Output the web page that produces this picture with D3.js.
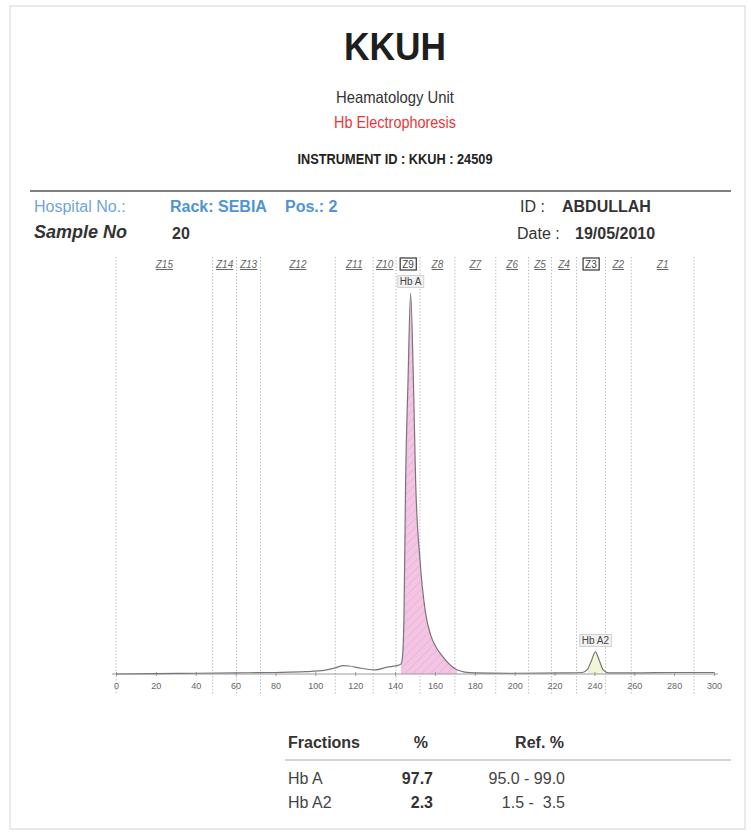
<!DOCTYPE html>
<html>
<head>
<meta charset="utf-8">
<script src="https://cdn.jsdelivr.net/npm/d3@7"></script>
<style>
body { margin: 0; background: #fff; }
text { font-family: "Liberation Sans", Arial, sans-serif; }
</style>
</head>
<body>
<script>
// zones of the capillary electrophoresis run (left edge .. right edge, in run units)
const zoneNames = ["Z15", "Z14", "Z13", "Z12", "Z11", "Z10", "Z9", "Z8", "Z7", "Z6", "Z5", "Z4", "Z3", "Z2", "Z1"];
const zoneEdges = [0, 48.5, 60.5, 72.5, 110, 129, 140.5, 152.5, 170, 190.5, 207, 218.5, 231, 245.5, 258.5, 290];
const boxedZones = ["Z9", "Z3"];

const axisTicks = [0, 20, 40, 60, 80, 100, 120, 140, 160, 180, 200, 220, 240, 260, 280, 300];

// trace (position, relative absorbance)
const traceX = [0, 20, 40, 60, 80, 95, 105, 110, 114, 117, 122, 130, 136, 141, 143, 143.8, 144.5, 145.3, 146.5, 147.8,
    149.2, 150.3, 152.5, 155.3, 158, 160.3, 164, 167.8, 171, 175, 180, 200, 225, 234, 236.5, 238.5, 240.5, 242.5,
    244.5, 247, 260, 280, 300];
const traceY = [0, 0.1, 0.2, 0.3, 0.4, 0.6, 1.0, 1.6, 2.2, 2.1, 1.6, 1.1, 1.8, 2.2, 2.6, 5, 16, 51, 77, 100,
    77, 51, 30, 16, 10, 7.3, 4.5, 2.3, 1.1, 0.5, 0.3, 0.2, 0.3, 0.4, 1.2, 3.5, 5.8, 3.5,
    1.0, 0.3, 0.3, 0.4, 0.4];

// peaks: label, apex, fill range
const peakNames = ["Hb A", "Hb A2"];
const peakApex = [147.8, 240.5];
const peakFrom = [143, 235];
const peakTo = [172, 246];

// result table
const fractions = ["Hb A", "Hb A2"];
const percents = ["97.7", "2.3"];
const refRanges = ["95.0 - 99.0", "1.5 -  3.5"];

const W = 751, H = 832;

const svg = d3.select("body").append("svg")
    .attr("width", W)
    .attr("height", H);

// hatching for the Hb A peak
let defs = svg.append("defs");
let pat = defs.append("pattern")
    .attr("id", "hatch")
    .attr("patternUnits", "userSpaceOnUse")
    .attr("width", 6)
    .attr("height", 6)
    .attr("patternTransform", "rotate(45)");
pat.append("rect").attr("width", 6).attr("height", 6).attr("fill", "#f4c4e4");
pat.append("line").attr("x1", 0).attr("y1", 0).attr("x2", 0).attr("y2", 6)
    .attr("stroke", "#eaa9d6").attr("stroke-width", 1.2);

// page edge
svg.append("rect")
    .attr("x", 10).attr("y", 6)
    .attr("width", 735).attr("height", 823)
    .attr("fill", "none")
    .attr("stroke", "#d4d4d4");

function txt(x, y, s, o) {
    o = o || {};
    let t = svg.append("text")
        .attr("x", x)
        .attr("y", y)
        .attr("font-size", o.size || 13)
        .attr("fill", o.fill || "#222")
        .attr("text-anchor", o.anchor || "start")
        .text(s);
    if (o.bold) t.attr("font-weight", "bold");
    if (o.italic) t.attr("font-style", "italic");
    if (o.w) t.attr("textLength", o.w).attr("lengthAdjust", "spacingAndGlyphs");
    return t;
}

// header (narrow print face on the scan)
const cx = 395;
txt(cx, 60, "KKUH", {size: 39, bold: true, anchor: "middle", fill: "#1e1e1e", w: 102});
txt(cx, 103, "Heamatology Unit", {size: 16.5, anchor: "middle", fill: "#333", w: 118});
txt(cx, 128, "Hb Electrophoresis", {size: 16.5, anchor: "middle", fill: "#e5383b", w: 122});
txt(cx, 164, "INSTRUMENT ID : KKUH : 24509", {size: 14, bold: true, anchor: "middle", w: 195});

svg.append("line")
    .attr("x1", 30).attr("x2", 731)
    .attr("y1", 191).attr("y2", 191)
    .attr("stroke", "#555").attr("stroke-width", 1.3);

txt(34, 212, "Hospital No.:", {size: 16, fill: "#6fa5dc"});
txt(170, 212, "Rack: SEBIA", {size: 16, bold: true, fill: "#4f93d8"});
txt(285, 212, "Pos.: 2", {size: 16, bold: true, fill: "#4f93d8"});
txt(520, 212, "ID :", {size: 16, fill: "#333"});
txt(562, 212, "ABDULLAH", {size: 16, bold: true, fill: "#333"});
txt(34, 238, "Sample No", {size: 18, bold: true, italic: true, fill: "#333"});
txt(172, 239, "20", {size: 16, bold: true, fill: "#333"});
txt(517, 239, "Date :", {size: 16, fill: "#333"});
txt(575, 239, "19/05/2010", {size: 16, bold: true, fill: "#333"});

// electropherogram
const x = d3.scaleLinear().domain([0, 300]).range([116, 714]);
const y = d3.scaleLinear().domain([0, 100]).range([674, 293]);

const plot = svg.append("g");

// zone boundaries
let edgeG = plot.append("g");
edgeG.selectAll("line")
    .data(zoneEdges)
    .enter().append("line")
    .attr("x1", d => x(d)).attr("x2", d => x(d))
    .attr("y1", 257).attr("y2", 695)
    .attr("stroke", "#9a9a9a")
    .attr("stroke-width", 0.8)
    .attr("stroke-dasharray", "1.2,2");

// zone names
let zones = zoneNames.map((n, i) => ({name: n, mid: (zoneEdges[i] + zoneEdges[i + 1]) / 2}));
let zoneG = plot.append("g");
zones.forEach(z => {
    let boxed = boxedZones.indexOf(z.name) >= 0;
    let t = zoneG.append("text")
        .attr("x", x(z.mid))
        .attr("y", 268)
        .attr("text-anchor", "middle")
        .attr("font-size", 10)
        .attr("fill", boxed ? "#444" : "#666")
        .text(z.name);
    if (boxed) {
        let bb = t.node().getBBox();
        zoneG.append("rect")
            .attr("x", bb.x - 2).attr("y", bb.y - 1)
            .attr("width", bb.width + 4).attr("height", bb.height + 1)
            .attr("fill", "none").attr("stroke", "#444").attr("stroke-width", 1.3);
    } else {
        t.attr("font-style", "italic").attr("text-decoration", "underline");
    }
});

const trace = traceX.map((v, i) => [v, traceY[i]]);

// peak fills
const area = d3.area()
    .x(d => x(d[0]))
    .y0(y(0))
    .y1(d => y(d[1]))
    .curve(d3.curveMonotoneX);

peakNames.forEach((n, i) => {
    let part = trace.filter(d => d[0] >= peakFrom[i] && d[0] <= peakTo[i]);
    plot.append("path")
        .datum(part)
        .attr("d", area)
        .attr("fill", i === 0 ? "url(#hatch)" : "#f0f6d6");
});

// axis
plot.append("line")
    .attr("x1", x(-2)).attr("x2", x(302))
    .attr("y1", y(0)).attr("y2", y(0))
    .attr("stroke", "#9a9a9a").attr("stroke-width", 1);

let axisG = plot.append("g")
    .attr("transform", `translate(0,${y(0)})`)
    .call(d3.axisBottom(x).tickValues(axisTicks).tickSize(2).tickPadding(7));
axisG.select(".domain").remove();
axisG.selectAll(".tick line").attr("y1", -2).attr("stroke", "#999");
axisG.selectAll(".tick text")
    .attr("font-family", "\"Liberation Sans\", Arial, sans-serif")
    .attr("font-size", 9)
    .attr("fill", "#666");

// trace line
const line = d3.line()
    .x(d => x(d[0]))
    .y(d => y(d[1]))
    .curve(d3.curveMonotoneX);

plot.append("path")
    .datum(trace)
    .attr("d", line)
    .attr("fill", "none")
    .attr("stroke", "#777")
    .attr("stroke-width", 1.2);

// peak labels
peakNames.forEach((n, i) => {
    let idx = traceX.indexOf(peakApex[i]);
    let top = y(traceY[idx]);
    let t = plot.append("text")
        .attr("x", x(peakApex[i]))
        .attr("y", top - 8)
        .attr("text-anchor", "middle")
        .attr("font-size", 10)
        .attr("fill", "#444")
        .text(n);
    let bb = t.node().getBBox();
    plot.insert("rect", () => t.node())
        .attr("x", bb.x - 2).attr("y", bb.y - 0.5)
        .attr("width", bb.width + 4).attr("height", bb.height + 1)
        .attr("fill", "#f1f1f1").attr("stroke", "#c8c8c8").attr("stroke-width", 0.8);
});

// result table
txt(288, 748, "Fractions", {size: 16, bold: true, fill: "#333"});
txt(428, 748, "%", {size: 16, bold: true, anchor: "end", fill: "#333"});
txt(564, 748, "Ref. %", {size: 16, bold: true, anchor: "end", fill: "#333"});

svg.append("line")
    .attr("x1", 285).attr("x2", 731)
    .attr("y1", 760).attr("y2", 760)
    .attr("stroke", "#aaa").attr("stroke-width", 1);

const rowY = [784, 808];
fractions.forEach((f, i) => {
    txt(288, rowY[i], f, {size: 16, fill: "#444"});
    txt(433, rowY[i], percents[i], {size: 16, bold: true, anchor: "end", fill: "#333"});
    txt(565, rowY[i], refRanges[i], {size: 16, anchor: "end", fill: "#444"}).attr("xml:space", "preserve");
});
</script>
</body>
</html>
